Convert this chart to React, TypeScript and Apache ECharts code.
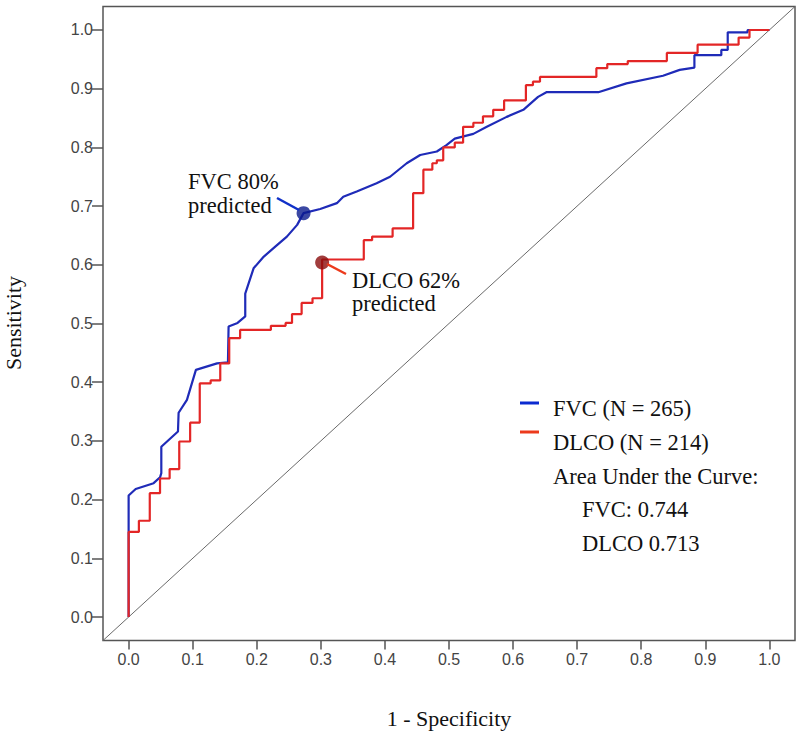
import React, { useEffect, useRef } from "react";
import * as echarts from "echarts";

const tickValues = [0, 0.1, 0.2, 0.3, 0.4, 0.5, 0.6, 0.7, 0.8, 0.9, 1.0];

const fvcX = [0, 0, 0.011, 0.039, 0.049, 0.051, 0.051, 0.077, 0.078, 0.091, 0.105, 0.138, 0.155, 0.156, 0.17, 0.182, 0.182, 0.195, 0.211, 0.232, 0.247, 0.263, 0.273, 0.299, 0.325, 0.335, 0.356, 0.387, 0.408, 0.434, 0.455, 0.481, 0.496, 0.509, 0.538, 0.559, 0.59, 0.616, 0.639, 0.652, 0.733, 0.777, 0.834, 0.86, 0.883, 0.883, 0.925, 0.925, 0.935, 0.935, 0.966, 0.966, 1.0];
const fvcY = [0, 0.207, 0.218, 0.228, 0.238, 0.245, 0.29, 0.316, 0.348, 0.37, 0.421, 0.432, 0.434, 0.495, 0.501, 0.512, 0.551, 0.594, 0.614, 0.634, 0.648, 0.668, 0.688, 0.695, 0.705, 0.716, 0.725, 0.739, 0.75, 0.773, 0.787, 0.793, 0.804, 0.815, 0.823, 0.835, 0.852, 0.864, 0.886, 0.894, 0.894, 0.909, 0.922, 0.932, 0.936, 0.957, 0.957, 0.966, 0.966, 0.996, 0.996, 1.0, 1.0];

const dlcoX = [0, 0, 0.016, 0.016, 0.033, 0.033, 0.049, 0.049, 0.064, 0.064, 0.079, 0.079, 0.096, 0.096, 0.111, 0.111, 0.128, 0.128, 0.143, 0.143, 0.157, 0.157, 0.174, 0.174, 0.222, 0.222, 0.245, 0.245, 0.255, 0.255, 0.27, 0.27, 0.287, 0.287, 0.302, 0.302, 0.367, 0.367, 0.38, 0.38, 0.412, 0.412, 0.444, 0.444, 0.46, 0.46, 0.474, 0.474, 0.481, 0.481, 0.491, 0.491, 0.509, 0.509, 0.522, 0.522, 0.538, 0.538, 0.553, 0.553, 0.569, 0.569, 0.586, 0.586, 0.62, 0.62, 0.631, 0.631, 0.642, 0.642, 0.73, 0.73, 0.747, 0.747, 0.779, 0.779, 0.84, 0.84, 0.888, 0.888, 0.952, 0.952, 0.969, 0.969, 1.0];
const dlcoY = [0, 0.145, 0.145, 0.164, 0.164, 0.211, 0.211, 0.236, 0.236, 0.252, 0.252, 0.299, 0.299, 0.331, 0.331, 0.398, 0.398, 0.403, 0.403, 0.432, 0.432, 0.475, 0.475, 0.489, 0.489, 0.496, 0.496, 0.501, 0.501, 0.516, 0.516, 0.535, 0.535, 0.543, 0.543, 0.609, 0.609, 0.642, 0.642, 0.648, 0.648, 0.662, 0.662, 0.722, 0.722, 0.762, 0.762, 0.773, 0.773, 0.778, 0.778, 0.8, 0.8, 0.808, 0.808, 0.835, 0.835, 0.842, 0.842, 0.853, 0.853, 0.864, 0.864, 0.88, 0.88, 0.906, 0.906, 0.912, 0.912, 0.92, 0.92, 0.935, 0.935, 0.942, 0.942, 0.947, 0.947, 0.961, 0.961, 0.975, 0.975, 0.987, 0.987, 1.0, 1.0];

const fvcCutoff = [0.273, 0.688];
const dlcoCutoff = [0.302, 0.604];
const diagonal = [[-0.04, -0.04], [1.04, 1.04]];

const legendLabels = ["FVC (N = 265)", "DLCO (N = 214)"];
const aucTitle = "Area Under the Curve:";
const aucLines = ["FVC: 0.744", "DLCO 0.713"];

const BLUE = "#1f2bb8";
const RED = "#e32626";
const SERIF = "'Liberation Serif', 'Times New Roman', serif";
const SANS = "'Liberation Sans', Arial, sans-serif";

function zip(xs: number[], ys: number[]) {
  return xs.map((x, i) => [x, ys[i]]);
}

export default function App() {
  const ref = useRef<HTMLDivElement>(null);
  useEffect(() => {
    if (!ref.current) return;
    const chart = echarts.init(ref.current, null, { renderer: "svg" });
    const t = (text: string, x: number, y: number) => ({
      type: "text",
      x,
      y,
      style: { text, fontFamily: SERIF, fontSize: 22.5, fill: "#111", verticalAlign: "middle", align: "left" },
    });
    chart.setOption({
      animation: false,
      backgroundColor: "#fff",
      grid: {
        left: 103,
        top: 6.5,
        width: 692,
        height: 634,
        show: true,
        borderColor: "#555",
        borderWidth: 1.5,
        backgroundColor: "transparent",
      },
      xAxis: {
        type: "value",
        min: -0.04,
        max: 1.04,
        axisLine: { show: false, onZero: false },
        splitLine: { show: false },
        axisTick: { show: true, length: 9, lineStyle: { color: "#555", width: 1.5 }, customValues: tickValues },
        axisLabel: {
          customValues: tickValues,
          formatter: (v: number) => v.toFixed(1),
          margin: 11,
          fontSize: 16,
          color: "#444",
          fontFamily: SANS,
        },
      },
      yAxis: {
        type: "value",
        min: -0.04,
        max: 1.04,
        axisLine: { show: false, onZero: false },
        splitLine: { show: false },
        axisTick: { show: true, length: 11, lineStyle: { color: "#555", width: 1.5 }, customValues: tickValues },
        axisLabel: {
          customValues: tickValues,
          formatter: (v: number) => v.toFixed(1),
          margin: 10,
          fontSize: 16,
          color: "#444",
          fontFamily: SANS,
        },
      },
      series: [
        {
          type: "line",
          data: diagonal,
          showSymbol: false,
          lineStyle: { color: "#6a6a6a", width: 1 },
          silent: true,
        },
        {
          type: "line",
          name: "FVC",
          data: zip(fvcX, fvcY),
          showSymbol: false,
          lineStyle: { color: BLUE, width: 2.2 },
          z: 3,
        },
        {
          type: "line",
          name: "DLCO",
          data: zip(dlcoX, dlcoY),
          showSymbol: false,
          lineStyle: { color: RED, width: 2.2 },
          z: 4,
        },
        {
          type: "scatter",
          data: [fvcCutoff],
          symbolSize: 14,
          itemStyle: { color: "#0a1a8c" },
          z: 5,
        },
        {
          type: "scatter",
          data: [dlcoCutoff],
          symbolSize: 14,
          itemStyle: { color: "#8a0c0c" },
          z: 5,
        },
      ],
      graphic: [
        {
          type: "text",
          x: 449,
          y: 718,
          style: { text: "1 - Specificity", fontFamily: SERIF, fontSize: 22, fill: "#111", align: "center", verticalAlign: "middle" },
        },
        {
          type: "text",
          x: 13,
          y: 323,
          rotation: Math.PI / 2,
          style: { text: "Sensitivity", fontFamily: SERIF, fontSize: 22, fill: "#111", align: "center", verticalAlign: "middle" },
        },
        t("FVC 80%", 188, 181),
        t("predicted", 188, 205),
        { type: "line", shape: { x1: 277, y1: 198, x2: 299, y2: 210 }, style: { stroke: "#1030c8", lineWidth: 2.5 }, z: 10 },
        t("DLCO 62%", 352, 280),
        t("predicted", 352, 303),
        { type: "line", shape: { x1: 327, y1: 264, x2: 346, y2: 274 }, style: { stroke: "#ec3a1c", lineWidth: 2.5 }, z: 10 },
        { type: "line", shape: { x1: 520, y1: 403, x2: 539, y2: 403 }, style: { stroke: "#0b2ad0", lineWidth: 3 } },
        { type: "line", shape: { x1: 520, y1: 432, x2: 539, y2: 432 }, style: { stroke: "#ec3a1c", lineWidth: 3 } },
        t(legendLabels[0], 553, 408),
        t(legendLabels[1], 553, 442),
        t(aucTitle, 553, 476),
        t(aucLines[0], 582, 509),
        t(aucLines[1], 582, 543),
      ],
    });
    return () => chart.dispose();
  }, []);
  return <div ref={ref} style={{ position: "fixed", left: 0, top: 0, width: 800, height: 733 }} />;
}
